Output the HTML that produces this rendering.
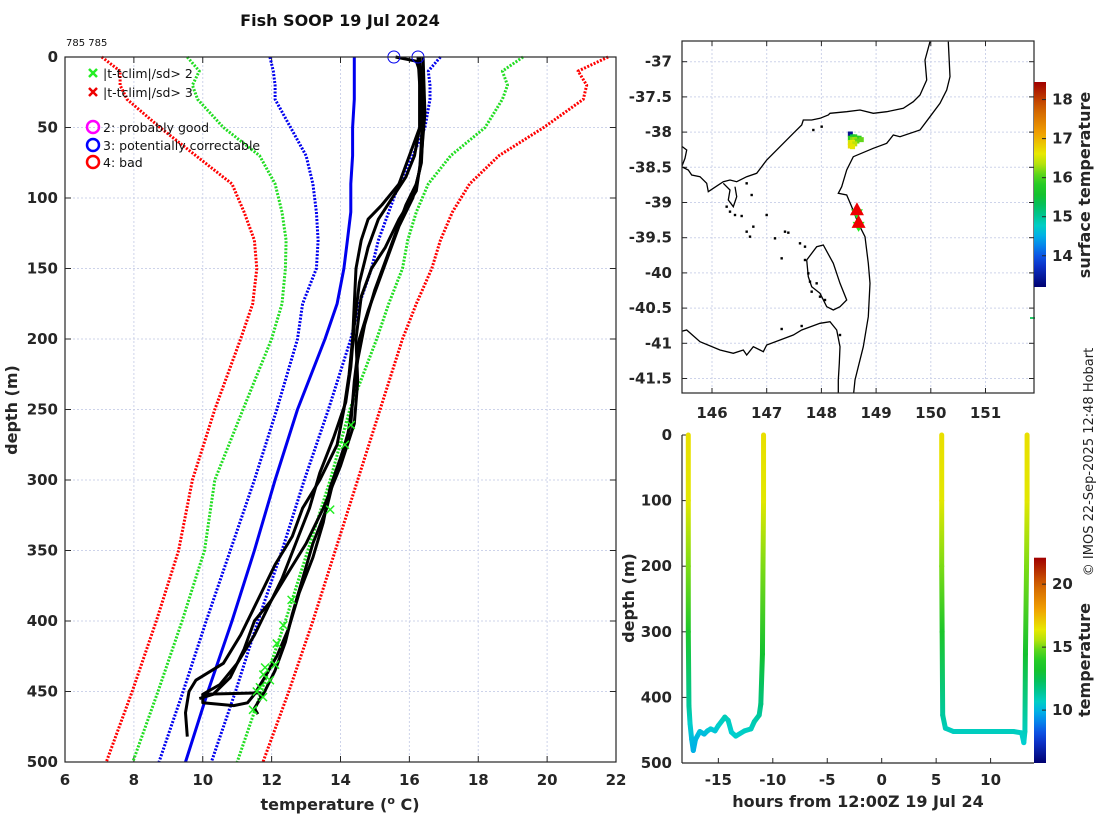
<!DOCTYPE html>
<html><head><meta charset="utf-8">
<style>
html,body{margin:0;padding:0;background:#fff;}
svg{display:block;font-family:"DejaVu Sans","Liberation Sans",sans-serif;}
.tk{font-size:15px;font-weight:bold;fill:#262626;}
.lb{font-size:16px;font-weight:bold;fill:#262626;}
</style></head>
<body>
<svg id="fig" width="1100" height="820" viewBox="0 0 1100 820" xmlns="http://www.w3.org/2000/svg">
<text x="340" y="26" text-anchor="middle" style="font-size:16px;font-weight:bold;fill:#111">Fish SOOP 19 Jul 2024</text>
<text x="66" y="46" style="font-size:10px;fill:#111">785 785</text>
<g id="main"></g>
<g id="map"></g>
<g id="time"></g>
<text transform="translate(1093,462) rotate(-90)" text-anchor="middle" style="font-size:13px;fill:#222">© IMOS 22-Sep-2025 12:48 Hobart</text>
</svg>
<script>
// ---------- main profile chart data ----------
const climDepths = [0,10,20,30,50,70,90,110,130,150,175,200,250,300,350,400,450,500];
const climMean   = [14.4,14.4,14.4,14.4,14.35,14.35,14.3,14.3,14.2,14.1,13.9,13.55,12.75,12.1,11.5,10.85,10.15,9.5];
const climSd1Lo  = [11.95,12.05,12.1,12.1,12.55,13.0,13.2,13.3,13.35,13.3,12.9,12.75,12.15,11.5,10.8,10.1,9.43,8.73];
const climSd1Hi  = [16.9,16.55,16.6,16.6,16.45,16.1,15.7,15.4,15.1,14.9,14.55,14.3,13.65,12.95,12.3,11.6,10.95,10.25];
const climSd2Lo  = [9.55,9.9,9.7,9.85,10.6,11.65,12.1,12.3,12.42,12.4,12.3,12.0,11.17,10.35,10.05,9.4,8.7,7.97];
const climSd2Hi  = [19.3,18.7,18.85,18.7,18.2,17.2,16.55,16.2,15.95,15.8,15.4,15.05,14.27,13.7,13.05,12.4,11.7,11.0];
const climSd3Lo  = [7.07,7.6,7.6,7.8,8.76,9.8,10.85,11.2,11.5,11.57,11.45,11.1,10.35,9.7,9.3,8.65,7.95,7.2];
const climSd3Hi  = [21.77,20.9,21.15,21.05,19.9,18.6,17.75,17.25,16.9,16.65,16.2,15.8,15.15,14.5,13.85,13.2,12.5,11.75];
const profA = [[16.25,0],[16.3,20],[16.3,50],[16.0,70],[15.7,90],[15.2,105],[14.8,115],[14.6,130],[14.45,150],[14.4,175],[14.35,200],[14.25,225],[14.1,250],[13.9,275],[13.4,300],[12.9,320],[12.6,340],[12.1,360],[11.6,385],[11.1,410],[10.6,430],[9.8,442],[9.6,450],[9.5,465],[9.55,482]];
const profB = [[15.6,0],[16.2,3],[16.3,10],[16.3,50],[16.15,70],[15.9,85],[15.5,100],[15.1,115],[14.8,135],[14.55,160],[14.4,190],[14.3,220],[14.15,245],[13.8,270],[13.4,295],[13.1,320],[12.7,345],[12.3,370],[11.9,390],[11.5,410],[11.0,430],[10.5,445],[10.0,452],[11.65,451],[11.7,455]];
const profC = [[16.3,0],[16.4,30],[16.35,60],[16.3,80],[16.1,100],[15.7,120],[15.4,140],[15.1,160],[14.8,180],[14.55,200],[14.4,230],[14.3,260],[14.0,285],[13.7,305],[13.5,330],[13.2,355],[12.8,380],[12.5,405],[12.15,425],[11.8,440],[11.5,452],[11.3,458],[10.9,460],[10.0,458],[10.0,452]];
const profD = [[16.3,0],[16.4,50],[16.35,75],[16.2,90],[15.9,105],[15.6,125],[15.3,145],[15.0,165],[14.7,190],[14.5,215],[14.35,245],[14.2,270],[13.85,295],[13.6,320],[13.2,345],[12.9,370],[12.6,395],[12.4,415],[12.1,435],[11.8,450],[11.5,462],[11.6,466]];
const profE = [[16.4,0],[16.45,40],[16.35,70],[16.2,95],[15.7,115],[15.3,135],[14.9,150],[14.6,170],[14.45,200],[14.5,230],[14.4,260],[14.0,290],[13.5,320],[13.0,345],[12.5,365],[12.0,385],[11.5,400],[11.2,420],[10.8,440],[10.3,452],[9.9,455]];
const flag2Temps  = [14.3,14.13,13.7,12.58,12.34,12.15,11.81,12.1,11.76,11.95,11.66,11.57,11.75,11.46];
const flag2Depths = [261,275,321,385,403,416,433,431,438,442,447,450,454,463];
const qcTemps  = [15.55,16.25];
const qcDepths = [0,0];
const tempTicks  = [6,8,10,12,14,16,18,20,22];
const depthTicks = [0,50,100,150,200,250,300,350,400,450,500];

// ---------- map data ----------
const lonTicks = [146,147,148,149,150,151];
const latTicks = [-37,-37.5,-38,-38.5,-39,-39.5,-40,-40.5,-41,-41.5];
const dropLons = [148.65,148.68];
const dropLats = [-39.11,-39.29];
const sstLons  = [148.52,148.56,148.6,148.64,148.68,148.72,148.52,148.56,148.6,148.64,148.52,148.56,148.6,148.52,148.56];
const sstLats  = [-38.02,-38.06,-38.06,-38.08,-38.08,-38.1,-38.08,-38.1,-38.1,-38.12,-38.14,-38.14,-38.16,-38.19,-38.2];
const sstVals  = [13.4,15.3,15.8,16.0,15.9,16.1,15.9,16.2,16.3,16.1,16.5,16.6,16.4,16.7,16.6];
const sstTicks = [14,15,16,17,18];

// ---------- time-depth data ----------
const tHours1 = [-17.76,-17.76,-17.76,-17.76,-17.7,-17.6,-17.45,-17.3,-17.1,-16.7,-16.3,-16.0,-15.7,-15.3,-15.0,-14.4,-14.1,-13.8,-13.4,-12.6,-12.0,-11.7,-11.25,-11.1,-10.95,-10.9,-10.85,-10.85];
const tDepth1 = [0,100,200,300,413,440,464,481,464,452,456,451,448,451,443,430,435,453,459,451,448,437,427,410,334,200,100,0];
const tTemp1  = [16.6,16.3,15.0,13.5,11.4,10.6,10.1,9.9,10.0,10.2,10.1,10.3,10.4,10.3,10.6,10.9,10.8,10.5,10.6,10.7,10.8,11.0,11.3,11.8,13.1,15.0,16.3,16.6];
const tHours2 = [5.51,5.51,5.51,5.55,5.6,5.85,6.6,9.0,12.1,12.85,13.05,13.15,13.2,13.3,13.35,13.35];
const tDepth2 = [0,100,200,300,427,447,452,452,452,454,469,452,334,200,100,0];
const tTemp2  = [16.6,16.3,15.0,13.5,11.3,10.9,10.8,10.8,10.8,10.7,10.5,10.8,13.1,15.0,16.3,16.6];
const hourTicks = [-15,-10,-5,0,5,10];
const tdDepthTicks = [0,100,200,300,400,500];
const tempCbTicks = [10,15,20];

const NS='http://www.w3.org/2000/svg';
function mk(tag, attrs, parent){const e=document.createElementNS(NS,tag);for(const k in attrs)e.setAttribute(k,attrs[k]);parent.appendChild(e);return e;}
const cmapStops=[[0,'#000070'],[0.13,'#1040e0'],[0.23,'#00a0f0'],[0.29,'#00d0d0'],[0.38,'#00c070'],[0.44,'#10c030'],[0.53,'#30d020'],[0.58,'#a0e010'],[0.65,'#e8e800'],[0.75,'#f0a000'],[0.87,'#d06000'],[1,'#a00000']];
function hx(c){return [1,3,5].map(i=>parseInt(c.substr(i,2),16));}
function cmap(f){f=Math.max(0,Math.min(1,f));for(let i=1;i<cmapStops.length;i++){if(f<=cmapStops[i][0]){const a=cmapStops[i-1],b=cmapStops[i];const t=(f-a[0])/(b[0]-a[0]);const ca=hx(a[1]),cb=hx(b[1]);return 'rgb('+ca.map((v,j)=>Math.round(v+(cb[j]-v)*t)).join(',')+')';}}return cmapStops[cmapStops.length-1][1];}
let defs=mk('defs',{},document.getElementById('fig'));

// ===== main chart =====
(function(){
const g=document.getElementById('main');
const X0=65,X1=616,Y0=57,Y1=762;
const xs=t=>X0+(t-6)/16*(X1-X0);
const ys=d=>Y0+d/500*(Y1-Y0);
for(const t of tempTicks){
  const l=mk('line',{x1:xs(t),x2:xs(t),y1:Y0,y2:Y1,stroke:'#cdd3ea','stroke-width':1,'stroke-dasharray':'2 2'},g);
  
  
  const tx=mk('text',{x:xs(t),y:785,'text-anchor':'middle',class:'tk'},g);tx.textContent=t;
  
  
  mk('line',{x1:xs(t),x2:xs(t),y1:Y1,y2:Y1-6,stroke:'#262626'},g);
  mk('line',{x1:xs(t),x2:xs(t),y1:Y0,y2:Y0+6,stroke:'#262626'},g);
}
for(const d of depthTicks){
  const l=mk('line',{x1:X0,x2:X1,y1:ys(d),y2:ys(d),stroke:'#cdd3ea','stroke-width':1,'stroke-dasharray':'2 2'},g);
  
  
  const tx=mk('text',{x:58,y:ys(d)+5,'text-anchor':'end',class:'tk'},g);tx.textContent=d;
  
  
  mk('line',{x1:X0,x2:X0+6,y1:ys(d),y2:ys(d),stroke:'#262626'},g);
  mk('line',{x1:X1,x2:X1-6,y1:ys(d),y2:ys(d),stroke:'#262626'},g);
}
const clim=[[climSd3Lo,'#ff0000',true,'clim-3sd-low'],[climSd3Hi,'#ff0000',true,'clim-3sd-high'],[climSd2Lo,'#22dd22',true,'clim-2sd-low'],[climSd2Hi,'#22dd22',true,'clim-2sd-high'],[climSd1Lo,'#0000ee',true,'clim-1sd-low'],[climSd1Hi,'#0000ee',true,'clim-1sd-high'],[climMean,'#0000ee',false,'clim-mean']];
for(const [arr,col,dot,name] of clim){
  const pts=arr.map((t,i)=>xs(t).toFixed(1)+','+ys(climDepths[i]).toFixed(1)).join(' ');
  const p=mk('polyline',{points:pts,fill:'none',stroke:col,'stroke-width':3,'stroke-linejoin':'round'},g);
  if(dot)p.setAttribute('stroke-dasharray','2 1.5');
  
  
}
const profs=[profA,profB,profC,profD,profE];
profs.forEach((pr,k)=>{
  const pts=pr.map(p=>xs(p[0]).toFixed(1)+','+ys(p[1]).toFixed(1)).join(' ');
  const p=mk('polyline',{points:pts,fill:'none',stroke:'#000','stroke-width':3,'stroke-linejoin':'round'},g);
  
  
});
flag2Temps.forEach((t,i)=>{
  const x=xs(t),y=ys(flag2Depths[i]);
  const m=mk('path',{d:`M${x-4},${y-4}L${x+4},${y+4}M${x-4},${y+4}L${x+4},${y-4}`,stroke:'#22ee22','stroke-width':1.5},g);
  
  
});
qcTemps.forEach((t,i)=>{
  const c=mk('circle',{cx:xs(t),cy:ys(qcDepths[i]),r:6,fill:'none',stroke:'#0000ee','stroke-width':1},g);
  
  
});
mk('rect',{x:X0,y:Y0,width:X1-X0,height:Y1-Y0,fill:'none',stroke:'#262626','stroke-width':1.2},g);
// legend
const lg=mk('g',{},g);


const items=[['x','#22ee22','|t-tclim|/sd> 2',73],['x','#ee0000','|t-tclim|/sd> 3',92],['o','#ff00ff','2: probably good',127],['o','#0000ff','3: potentially correctable',145],['o','#ff0000','4: bad',162]];
for(const [s,c,txt,y] of items){
  if(s==='x')mk('path',{d:`M${89},${y-4}L${97},${y+4}M${89},${y+4}L${97},${y-4}`,stroke:c,'stroke-width':2.5},lg);
  else mk('circle',{cx:93,cy:y,r:6,fill:'none',stroke:c,'stroke-width':2.5},lg);
  const t=mk('text',{x:103,y:y+5,style:'font-size:12.5px;fill:#111'},lg);t.textContent=txt;
  
  
}
const xl=mk('text',{x:340,y:810,'text-anchor':'middle',class:'lb'},g);
xl.innerHTML='temperature (<tspan dy="-6" style="font-size:11px">o</tspan><tspan dy="6"> C)</tspan>';


const yl=mk('text',{transform:'translate(17,410) rotate(-90)','text-anchor':'middle',class:'lb'},g);yl.textContent='depth (m)';


})();

// ===== map =====
(function(){
const g=document.getElementById('map');
const X0=682,X1=1034,Y0=41,Y1=393;
const lx=lon=>712+(lon-146)*54.7;
const ly=lat=>61.7+(-37-lat)*70.4;
const cp=mk('clipPath',{id:'mapclip'},defs);mk('rect',{x:X0,y:Y0,width:X1-X0,height:Y1-Y0},cp);
for(const lo of lonTicks){
  mk('line',{x1:lx(lo),x2:lx(lo),y1:Y0,y2:Y1,stroke:'#cdd3ea','stroke-dasharray':'2 2'},g);
  mk('line',{x1:lx(lo),x2:lx(lo),y1:Y1,y2:Y1-5,stroke:'#262626'},g);
  mk('line',{x1:lx(lo),x2:lx(lo),y1:Y0,y2:Y0+5,stroke:'#262626'},g);
  const t=mk('text',{x:lx(lo),y:418,'text-anchor':'middle',class:'tk'},g);t.textContent=lo;
  
  
}
for(const la of latTicks){
  mk('line',{x1:X0,x2:X1,y1:ly(la),y2:ly(la),stroke:'#cdd3ea','stroke-dasharray':'2 2'},g);
  mk('line',{x1:X0,x2:X0+5,y1:ly(la),y2:ly(la),stroke:'#262626'},g);
  mk('line',{x1:X1,x2:X1-5,y1:ly(la),y2:ly(la),stroke:'#262626'},g);
  const t=mk('text',{x:672,y:ly(la)+5,'text-anchor':'end',class:'tk'},g);t.textContent=la;
  
  
}
const cg=mk('g',{'clip-path':'url(#mapclip)',fill:'none',stroke:'#000','stroke-width':1.3},g);


const z=a=>a.map(p=>(620+p[0]/3).toFixed(1)+','+(30+p[1]/3).toFixed(1)).join(' ');
const coasts=[
[[180,345],[200,360],[195,385],[185,410],[205,420],[215,435],[240,440],[260,460],[265,485],[280,475],[310,455],[330,450],[350,455],[380,440],[410,430],[440,390],[480,350],[520,310],[545,285],[550,270],[575,270],[600,265],[625,255],[630,250],[680,245],[720,240],[760,250],[800,245],[850,235],[880,215],[900,195],[920,150],[915,90],[930,35]],
[[985,35],[990,140],[980,180],[960,220],[930,260],[900,300],[840,320],[820,315],[800,340],[760,355],[700,380],[680,420],[665,470],[655,490],[680,495],[695,530],[715,580],[735,620],[745,700],[750,760],[745,860],[730,950],[715,1010],[705,1050],[700,1100]],
[[180,905],[200,900],[240,935],[300,960],[340,970],[370,960],[380,975],[400,950],[420,960],[430,965],[440,945],[520,915],[545,900],[600,880],[630,875],[650,900],[660,950],[658,1000],[655,1050],[655,1100]],
[[560,690],[590,650],[610,645],[640,700],[660,760],[680,810],[660,830],[640,840],[620,830],[600,790],[575,770],[565,740],[560,690]],
[[310,460],[330,480],[325,510],[340,530],[350,500],[345,470]]
];
coasts.forEach(c=>mk('polyline',{points:z(c)},cg));
const dots=[[380,460],[395,495],[320,530],[330,545],[345,555],[365,558],[440,555],[400,590],[380,605],[390,620],[465,625],[495,605],[505,608],[485,685],[540,640],[555,650],[555,690],[565,730],[570,755],[590,760],[575,785],[600,800],[615,810],[580,300],[605,290],[485,897],[545,888],[660,915]];
dots.forEach(d=>mk('rect',{x:620+d[0]/3-1.2,y:30+d[1]/3-1.2,width:2.4,height:2.4,fill:'#000',stroke:'none'},g));
sstLons.forEach((lo,i)=>{
  const r=mk('rect',{x:lx(lo)-2,y:ly(sstLats[i])-2,width:5,height:5,fill:cmap((sstVals[i]-13.2)/5.25)},g);
  
  
});
dropLons.forEach((lo,i)=>{
  const x=lx(lo),y=ly(dropLats[i]);
  mk('path',{d:`M${x-6},${y-1}L${x+6},${y-1}L${x},${y+9}Z`,fill:'#22ee22'},g);
  const t=mk('path',{d:`M${x},${y-8}L${x+7},${y+5}L${x-7},${y+5}Z`,fill:'#ee0000'},g);
  
  
});
mk('line',{x1:1030,x2:1035,y1:318,y2:318,stroke:'#22cc66','stroke-width':2},g);
mk('rect',{x:X0,y:Y0,width:X1-X0,height:Y1-Y0,fill:'none',stroke:'#262626','stroke-width':1.2},g);
// colorbar
const gr=mk('linearGradient',{id:'cbmap',x1:0,y1:1,x2:0,y2:0},defs);
for(let i=0;i<=20;i++)mk('stop',{offset:i/20,'stop-color':cmap(i/20)},gr);
const cb=mk('rect',{x:1034,y:82,width:12,height:205,fill:'url(#cbmap)'},g);


const cy=v=>287-(v-13.2)/5.25*205;
sstTicks.forEach(v=>{
  mk('line',{x1:1046,x2:1042,y1:cy(v),y2:cy(v),stroke:'#262626'},g);
  const t=mk('text',{x:1052,y:cy(v)+5,class:'tk'},g);t.textContent=v;
  
  
});
const tl=mk('text',{transform:'translate(1090,185) rotate(-90)','text-anchor':'middle',class:'lb'},g);tl.textContent='surface temperature';


})();

// ===== time-depth =====
(function(){
const g=document.getElementById('time');
const X0=682,X1=1034,Y0=435,Y1=763;
const hx_=h=>881.7+h*10.89;
const dy=d=>Y0+d/500*(Y1-Y0);
const tf=t=>(t-5.8)/16.3;
for(const h of hourTicks){
  mk('line',{x1:hx_(h),x2:hx_(h),y1:Y1,y2:Y1-5,stroke:'#262626'},g);
  const t=mk('text',{x:hx_(h),y:785,'text-anchor':'middle',class:'tk'},g);t.textContent=h;
  
  
}
for(const d of tdDepthTicks){
  mk('line',{x1:X0,x2:X0+5,y1:dy(d),y2:dy(d),stroke:'#262626'},g);
  const t=mk('text',{x:672,y:dy(d)+5,'text-anchor':'end',class:'tk'},g);t.textContent=d;
  
  
}
let gid=0;
function trace(H,D,T,name){
  const tg=mk('g',{},g);
  
  
  for(let i=0;i<H.length-1;i++){
    const x1=hx_(H[i]),y1=dy(D[i]),x2=hx_(H[i+1]),y2=dy(D[i+1]);
    const id='tg'+(gid++);
    const gr=mk('linearGradient',{id:id,gradientUnits:'userSpaceOnUse',x1:x1,y1:y1,x2:x2+0.01,y2:y2+0.01},defs);
    mk('stop',{offset:0,'stop-color':cmap(tf(T[i]))},gr);
    mk('stop',{offset:1,'stop-color':cmap(tf(T[i+1]))},gr);
    mk('line',{x1:x1,y1:y1,x2:x2,y2:y2,stroke:`url(#${id})`,'stroke-width':5,'stroke-linecap':'round'},tg);
  }
}
trace(tHours1,tDepth1,tTemp1,'drop-trace-1');
trace(tHours2,tDepth2,tTemp2,'drop-trace-2');
mk('line',{x1:X0,x2:X0,y1:Y0,y2:Y1,stroke:'#262626','stroke-width':1.2},g);
mk('line',{x1:X0,x2:X1,y1:Y1,y2:Y1,stroke:'#262626','stroke-width':1.2},g);
const gr=mk('linearGradient',{id:'cbt',x1:0,y1:1,x2:0,y2:0},defs);
for(let i=0;i<=20;i++)mk('stop',{offset:i/20,'stop-color':cmap(i/20)},gr);
const cb=mk('rect',{x:1034,y:557.7,width:12,height:205.3,fill:'url(#cbt)'},g);


const cy=v=>763-(v-5.8)/16.3*205.3;
tempCbTicks.forEach(v=>{
  mk('line',{x1:1046,x2:1042,y1:cy(v),y2:cy(v),stroke:'#262626'},g);
  const t=mk('text',{x:1052,y:cy(v)+5,class:'tk'},g);t.textContent=v;
  
  
});
const tl=mk('text',{transform:'translate(1090,660) rotate(-90)','text-anchor':'middle',class:'lb'},g);tl.textContent='temperature';


const xl=mk('text',{x:858,y:807,'text-anchor':'middle',class:'lb'},g);xl.textContent='hours from 12:00Z 19 Jul 24';


const yl=mk('text',{transform:'translate(634,598) rotate(-90)','text-anchor':'middle',class:'lb'},g);yl.textContent='depth (m)';


})();
</script>
</body></html>
